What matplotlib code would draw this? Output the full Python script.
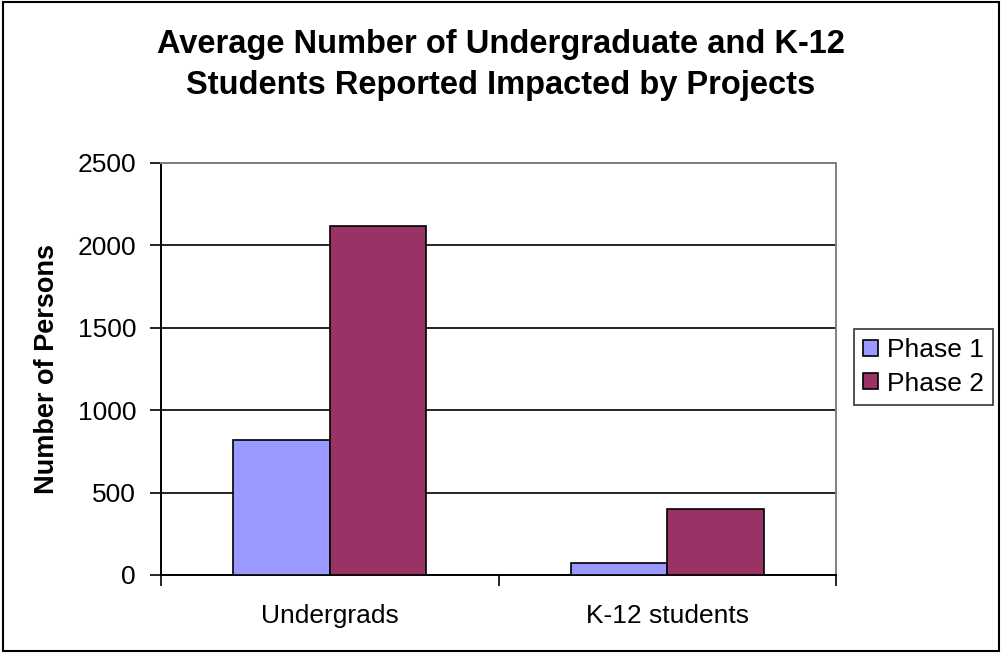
# Average number of undergraduate and K-12 students impacted, by phase.
import numpy as np
import matplotlib.pyplot as plt
from matplotlib.patches import Rectangle

categories = ["Undergrads", "K-12 students"]
phase1 = [820, 71]
phase2 = [2120, 399]
series_names = ["Phase 1", "Phase 2"]
yticks = [0, 500, 1000, 1500, 2000, 2500]

plt.rcParams['font.family'] = ['Liberation Sans', 'DejaVu Sans']

fig = plt.figure(figsize=(10.02, 6.53), dpi=100)
ax = fig.add_axes([161 / 1002, 1 - 575 / 653, 675 / 1002, 412 / 653])

x = np.arange(len(categories))
w = 1 / 3.5
ax.bar(x - w / 2, phase1, w, color='#9999FF', edgecolor='black', linewidth=1.2,
       label=series_names[0], zorder=3)
ax.bar(x + w / 2, phase2, w, color='#993366', edgecolor='black', linewidth=1.2,
       label=series_names[1], zorder=3)

ax.set_xlim(-0.5, len(categories) - 0.5)
ax.set_ylim(0, 2500)
ax.set_yticks(yticks)
ax.set_yticklabels([str(v) for v in yticks], fontsize=19)
ax.set_xticks(x)
ax.set_xticklabels(categories, fontsize=19)
ax.set_xticks(np.arange(-0.5, len(categories)), minor=True)
ax.tick_params(axis='x', which='major', length=0, pad=21)
ax.tick_params(axis='x', which='minor', length=8, width=1.2, direction='out')
ax.tick_params(axis='y', length=8, width=1.2, direction='out', pad=10)

ax.yaxis.grid(True, color='black', linewidth=1.2, zorder=0)
ax.set_axisbelow(True)
for side in ['left', 'bottom']:
    ax.spines[side].set_color('black')
    ax.spines[side].set_linewidth(1.4)
for side in ['top', 'right']:
    ax.spines[side].set_color('#808080')
    ax.spines[side].set_linewidth(1.4)

ax.set_ylabel("Number of Persons", fontsize=19.5, fontweight='bold')
ax.yaxis.set_label_coords(-101 / 675, 0.5)

fig.text(0.5, 1 - 65 / 653,
         "Average Number of Undergraduate and K-12\nStudents Reported Impacted by Projects",
         ha='center', va='center', fontsize=23.5, fontweight='bold', linespacing=1.45)

leg = fig.legend(loc='center left', bbox_to_anchor=(854 / 1002, 1 - 367 / 653),
                 fontsize=19, frameon=True, fancybox=False, edgecolor='black',
                 handlelength=0.55, handleheight=0.55, handletextpad=0.35,
                 borderpad=0.35, labelspacing=0.35, borderaxespad=0)
leg.get_frame().set_linewidth(1.2)

fig.patches.append(Rectangle((0.003, 0.003), 0.994, 0.994, transform=fig.transFigure,
                             fill=False, edgecolor='black', linewidth=1.5))

fig.savefig("out.png", dpi=100)
